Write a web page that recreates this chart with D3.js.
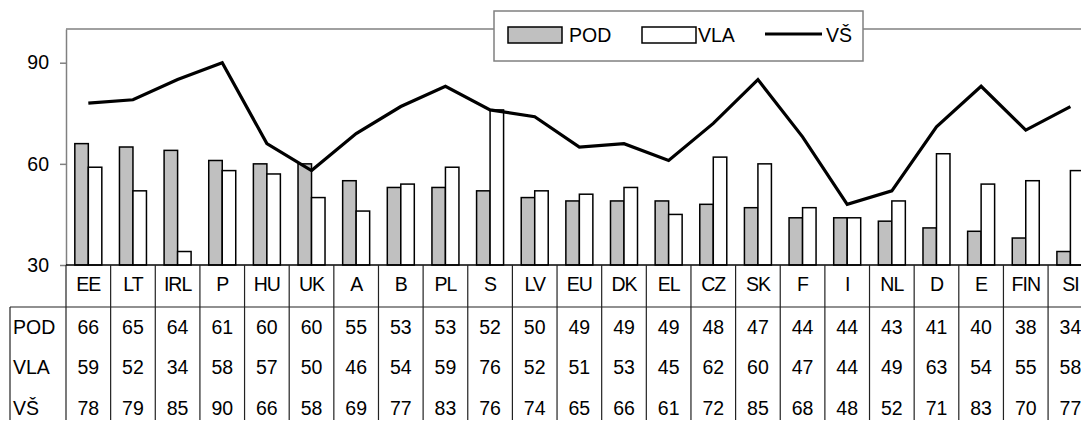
<!DOCTYPE html>
<html>
<head>
<meta charset="utf-8">
<script src="https://cdn.jsdelivr.net/npm/d3@7"></script>
<style>
  body { margin: 0; background: #fff; }
  svg { display: block; font-family: "Liberation Sans", Arial, sans-serif; }
  text { fill: #000; }
</style>
</head>
<body>
<div id="chart"></div>
<script>
const width = 1081;
const height = 421;

const categories = ["EE", "LT", "IRL", "P", "HU", "UK", "A", "B", "PL", "S", "LV", "EU", "DK", "EL", "CZ", "SK", "F", "I", "NL", "D", "E", "FIN", "SI"];
const podValues = [66, 65, 64, 61, 60, 60, 55, 53, 53, 52, 50, 49, 49, 49, 48, 47, 44, 44, 43, 41, 40, 38, 34];
const vlaValues = [59, 52, 34, 58, 57, 50, 46, 54, 59, 76, 52, 51, 53, 45, 62, 60, 47, 44, 49, 63, 54, 55, 58];
const vsValues = [78, 79, 85, 90, 66, 58, 69, 77, 83, 76, 74, 65, 66, 61, 72, 85, 68, 48, 52, 71, 83, 70, 77];
const seriesNames = ["POD", "VLA", "VŠ"];
const yTicks = [30, 60, 90];

const plot = { left: 66, top: 29, bottom: 265, band: 44.64 };
const fontSize = "19.5px";
const barWidth = 13.5;

let svg;
let xScale;
let yScale;

function createChart() {
  svg = d3.select("#chart").append("svg")
    .attr("width", width)
    .attr("height", height);

  xScale = d3.scaleBand()
    .domain(categories)
    .range([plot.left, plot.left + plot.band * categories.length])
    .padding(0);

  yScale = d3.scaleLinear()
    .domain([30, 100])
    .range([plot.bottom, plot.top]);

  createFrame();
  createBars();
  createLine();
  createTable();
  createLegend();
}

function createFrame() {
  // top border of plot area
  svg.append("line")
    .attr("x1", plot.left).attr("x2", width + 20)
    .attr("y1", yScale(100)).attr("y2", yScale(100))
    .attr("stroke", "#808080").attr("stroke-width", 1.5);

  const yAxis = svg.append("g")
    .attr("transform", `translate(${plot.left},0)`)
    .call(d3.axisLeft(yScale).tickValues(yTicks).tickSize(6).tickPadding(11).tickSizeOuter(0));
  yAxis.select(".domain").attr("stroke", "#808080").attr("stroke-width", 1.5);
  yAxis.selectAll(".tick line").attr("stroke", "#808080").attr("stroke-width", 1.5);
  yAxis.selectAll(".tick text")
    .attr("font-size", fontSize)
    .attr("font-family", "Liberation Sans, Arial, sans-serif")
    .attr("fill", "#000");
}

function createBars() {
  const g = svg.append("g");
  g.selectAll(".pod")
    .data(categories)
    .enter()
    .append("rect")
    .attr("x", (d) => xScale(d) + xScale.bandwidth() / 2 - barWidth)
    .attr("y", (d, i) => yScale(podValues[i]))
    .attr("width", barWidth)
    .attr("height", (d, i) => yScale(30) - yScale(podValues[i]))
    .attr("fill", "#c0c0c0")
    .attr("stroke", "#000")
    .attr("stroke-width", 1.5);

  g.selectAll(".vla")
    .data(categories)
    .enter()
    .append("rect")
    .attr("x", (d) => xScale(d) + xScale.bandwidth() / 2)
    .attr("y", (d, i) => yScale(vlaValues[i]))
    .attr("width", barWidth)
    .attr("height", (d, i) => yScale(30) - yScale(vlaValues[i]))
    .attr("fill", "#fff")
    .attr("stroke", "#000")
    .attr("stroke-width", 1.5);
}

function createLine() {
  svg.append("path")
    .datum(categories)
    .attr("fill", "none")
    .attr("stroke", "#000")
    .attr("stroke-width", 3.2)
    .attr("stroke-linejoin", "miter")
    .attr("d", d3.line()
      .x((d) => xScale(d) + xScale.bandwidth() / 2)
      .y((d, i) => yScale(vsValues[i])));
}

function createTable() {
  const rowTop = 307;
  const rowY = [327, 367.5, 408];
  const rows = [podValues, vlaValues, vsValues];
  const g = svg.append("g");

  // x axis line
  g.append("line")
    .attr("x1", plot.left).attr("x2", width + 20)
    .attr("y1", plot.bottom).attr("y2", plot.bottom)
    .attr("stroke", "#000").attr("stroke-width", 1.5);

  g.append("line")
    .attr("x1", 10).attr("x2", width + 20)
    .attr("y1", rowTop).attr("y2", rowTop)
    .attr("stroke", "#222").attr("stroke-width", 1.2);

  g.append("line")
    .attr("x1", 10).attr("x2", 10)
    .attr("y1", rowTop).attr("y2", 420)
    .attr("stroke", "#222").attr("stroke-width", 1.2);

  g.selectAll(".col-line")
    .data(categories)
    .enter()
    .append("line")
    .attr("x1", (d) => xScale(d)).attr("x2", (d) => xScale(d))
    .attr("y1", plot.bottom).attr("y2", 420)
    .attr("stroke", "#222").attr("stroke-width", 1.2);

  g.selectAll(".cat")
    .data(categories)
    .enter()
    .append("text")
    .attr("x", (d) => xScale(d) + xScale.bandwidth() / 2)
    .attr("y", 284)
    .attr("dy", "0.35em")
    .attr("text-anchor", "middle")
    .attr("font-size", fontSize)
    .attr("letter-spacing", "-1px")
    .text((d) => d);

  g.selectAll(".row-name")
    .data(seriesNames)
    .enter()
    .append("text")
    .attr("x", 13)
    .attr("y", (d, i) => rowY[i])
    .attr("dy", "0.35em")
    .attr("font-size", fontSize)
    .text((d) => d);

  rows.forEach((values, r) => {
    g.selectAll(".val-" + r)
      .data(categories)
      .enter()
      .append("text")
      .attr("x", (d) => xScale(d) + xScale.bandwidth() / 2)
      .attr("y", rowY[r])
      .attr("dy", "0.35em")
      .attr("text-anchor", "middle")
      .attr("font-size", fontSize)
      .text((d, i) => values[i]);
  });
}

function createLegend() {
  const g = svg.append("g");
  g.append("rect")
    .attr("x", 494).attr("y", 11)
    .attr("width", 369).attr("height", 50)
    .attr("fill", "#fff")
    .attr("stroke", "#808080")
    .attr("stroke-width", 1.5);

  g.append("rect")
    .attr("x", 508).attr("y", 27)
    .attr("width", 54).attr("height", 16)
    .attr("fill", "#c0c0c0").attr("stroke", "#000").attr("stroke-width", 1.5);
  g.append("text")
    .attr("x", 569).attr("y", 35).attr("dy", "0.35em")
    .attr("font-size", fontSize)
    .text(seriesNames[0]);

  g.append("rect")
    .attr("x", 642).attr("y", 27)
    .attr("width", 54).attr("height", 16)
    .attr("fill", "#fff").attr("stroke", "#000").attr("stroke-width", 1.5);
  g.append("text")
    .attr("x", 698).attr("y", 35).attr("dy", "0.35em")
    .attr("font-size", fontSize)
    .text(seriesNames[1]);

  g.append("line")
    .attr("x1", 765).attr("x2", 822)
    .attr("y1", 34).attr("y2", 34)
    .attr("stroke", "#000").attr("stroke-width", 3.2);
  g.append("text")
    .attr("x", 826).attr("y", 35).attr("dy", "0.35em")
    .attr("font-size", fontSize)
    .text(seriesNames[2]);
}

createChart();
</script>
</body>
</html>
